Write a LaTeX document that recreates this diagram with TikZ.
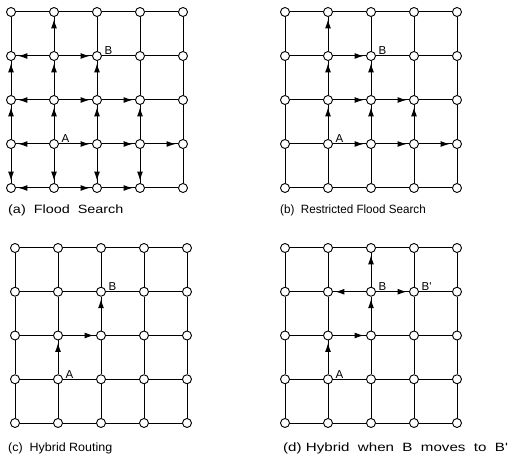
\documentclass[tikz,border=0pt]{standalone}
\usepackage{graphicx}
\usepackage{fontspec}
\setmainfont{Liberation Sans}
\usetikzlibrary{arrows.meta}
\tikzset{
 vtx/.style={circle,draw,fill=white,line width=0.9pt,minimum size=9pt,inner sep=0pt},
 gline/.style={line width=1pt},
 arr/.style={line width=1pt,-{Latex[length=9pt,width=6pt]},shorten >=2.5pt},
 lbl/.style={font=\fontsize{11.5}{13}\selectfont,inner sep=0pt,anchor=base west},
 captxt/.style={font=\fontsize{12}{14}\selectfont,inner sep=0pt,anchor=base west},
}
\newcommand\mkgridx[5]{%
 \foreach \i in {0,...,4}{\foreach \j in {0,...,4}{
   \node[vtx] (#1\i\j) at ({(#2+\i*#3)*1pt},{-(#4+\j*#5)*1pt}) {};}}
 \foreach \i in {0,...,4}{\foreach \j in {0,...,3}{
   \pgfmathtruncatemacro\k{\j+1}
   \draw[gline] (#1\i\j) -- (#1\i\k);
   \draw[gline] (#1\j\i) -- (#1\k\i);}}
}
\begin{document}
\begin{tikzpicture}
\useasboundingbox (0,0) rectangle (509pt,-462pt);
% grids
\mkgridx{a}{11}{43}{12}{44}
\mkgridx{b}{285}{43}{12}{44}
\mkgridx{c}{15}{43}{248}{43.75}
\mkgridx{d}{285}{43}{248}{43.75}
% arrows (a)
\foreach \s/\t in {13/03,13/23,13/12,13/14,03/02,03/04,23/33,23/22,23/24,12/02,12/22,12/11,14/04,14/24,33/43,33/32,33/34,22/32,22/21,02/01,24/34,11/01,11/21,11/10}
  \draw[arr] (a\s) -- (a\t);
% arrows (b)
\foreach \s/\t in {13/23,23/33,33/43,13/12,23/22,33/32,12/22,22/32,12/11,22/21,11/21,11/10}
  \draw[arr] (b\s) -- (b\t);
% arrows (c)
\foreach \s/\t in {13/12,12/22,22/21}
  \draw[arr] (c\s) -- (c\t);
% arrows (d)
\foreach \s/\t in {13/12,12/22,22/21,21/20,21/11,21/31}
  \draw[arr] (d\s) -- (d\t);
% labels
\node[lbl] (aA) at ([xshift=7.5pt,yshift=1pt]a13.center) {A};
\node[lbl] (aB) at ([xshift=7.5pt,yshift=1pt]a21.center) {B};
\node[lbl] (bA) at ([xshift=7.5pt,yshift=1pt]b13.center) {A};
\node[lbl] (bB) at ([xshift=7.5pt,yshift=1pt]b21.center) {B};
\node[lbl] (cA) at ([xshift=7.5pt,yshift=1pt]c13.center) {A};
\node[lbl] (cB) at ([xshift=7.5pt,yshift=1pt]c21.center) {B};
\node[lbl] (dA) at ([xshift=7.5pt,yshift=1pt]d13.center) {A};
\node[lbl] (dB) at ([xshift=7.5pt,yshift=1pt]d21.center) {B};
\node[lbl] (dBp) at ([xshift=7.5pt,yshift=1pt]d31.center) {B\textquotesingle};
% captions
\node[captxt] (capa) at (8pt,-214pt) {\scalebox{1.2}[1]{(a)\ \ Flood\ \ Search}};
\node[captxt] (capb) at (280pt,-214pt) {\scalebox{0.97}[1]{(b)\ \ Restricted Flood Search}};
\node[captxt] (capc) at (8pt,-451pt) {\scalebox{1.04}[1]{(c)\ \ Hybrid Routing}};
\node[captxt] (capd) at (283pt,-451pt) {\scalebox{1.26}[1]{(d) Hybrid\ \ when\ \ B\ \ moves\ \ to\ \ B\textquotesingle}};
\end{tikzpicture}
\end{document}
